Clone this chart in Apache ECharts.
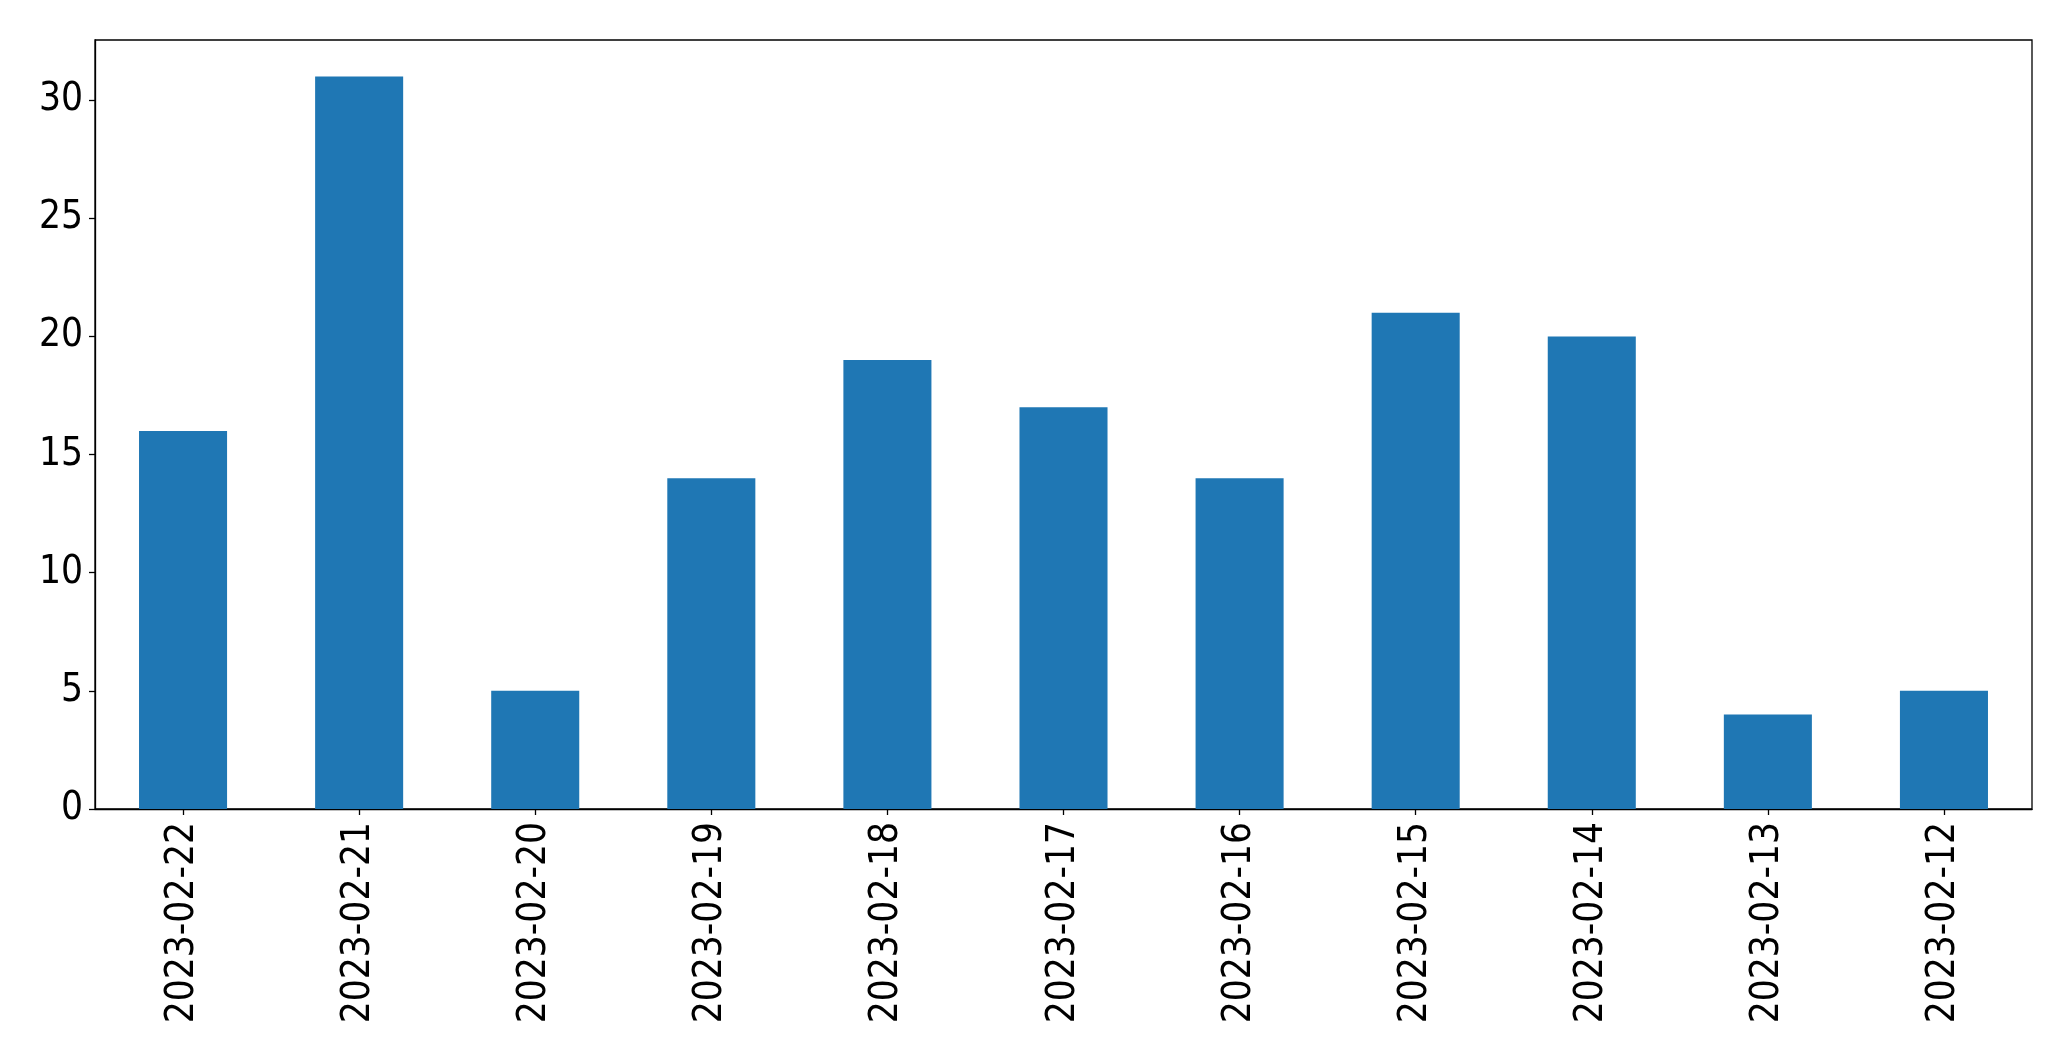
<!DOCTYPE html>
<html><head><meta charset="utf-8">
<script src="https://cdn.jsdelivr.net/npm/echarts@6/dist/echarts.min.js"></script>
<style>html,body{margin:0;padding:0;background:#fff}#c{width:2071px;height:1061px}</style>
</head><body><div id="c"></div>
<script>
const categories = ['2023-02-22','2023-02-21','2023-02-20','2023-02-19','2023-02-18','2023-02-17','2023-02-16','2023-02-15','2023-02-14','2023-02-13','2023-02-12'];
const values = [16, 31, 5, 14, 19, 17, 14, 21, 20, 4, 5];
const yTicks = [0, 5, 10, 15, 20, 25, 30];

const FONT = '"DejaVu Sans Condensed", "DejaVu Sans", sans-serif';
const chart = echarts.init(document.getElementById('c'), null, {renderer:'canvas'});
chart.setOption({
  animation: false,
  backgroundColor: '#fff',
  grid: {left: 95, right: 39, top: 40, bottom: 252, show: true, borderColor: '#000', borderWidth: 1.3, backgroundColor: 'transparent'},
  xAxis: {
    type: 'category', data: categories,
    axisLine: {show: true, lineStyle: {color: '#000', width: 1.3}},
    axisTick: {show: true, alignWithLabel: true, length: 6, lineStyle: {color: '#000', width: 1.3}},
    axisLabel: {rotate: 90, margin: 13, color: '#000', fontFamily: FONT, fontSize: 38.5, interval: 0},
    splitLine: {show: false}
  },
  yAxis: {
    type: 'value', min: 0, max: 32.55,
    axisLine: {show: true, lineStyle: {color: '#000', width: 1.3}},
    axisTick: {show: true, length: 6, customValues: yTicks, lineStyle: {color: '#000', width: 1.3}},
    axisLabel: {margin: 12, color: '#000', fontFamily: FONT, fontSize: 38.5, customValues: yTicks},
    splitLine: {show: false}
  },
  series: [{type: 'bar', data: values, barWidth: '50%', itemStyle: {color: '#1f77b4'}}]
});
</script></body></html>
